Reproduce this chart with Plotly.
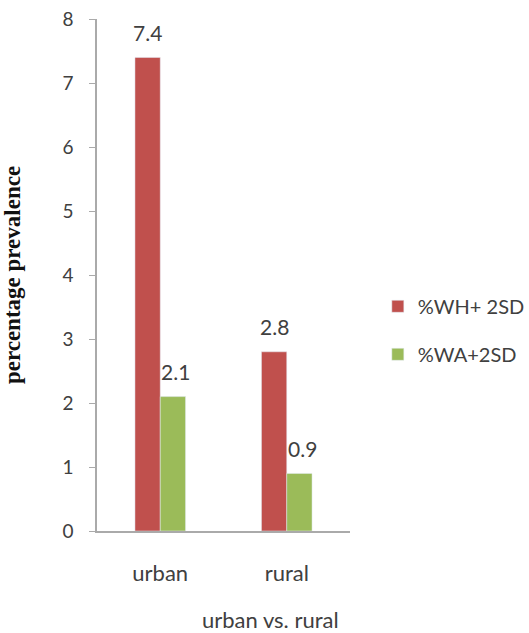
import plotly.graph_objects as go

categories = ["urban", "rural"]
wh_values = [7.4, 2.8]
wa_values = [2.1, 0.9]
series_names = ["%WH+ 2SD", "%WA+2SD"]
y_ticks = [0, 1, 2, 3, 4, 5, 6, 7, 8]

font_fam = "Lato, Open Sans, sans-serif"
txt_col = "#404040"
colors = ["#C0504D", "#9BBB59"]

fig = go.Figure()
for vals, name, col, grp in [(wh_values, series_names[0], colors[0], "a"),
                             (wa_values, series_names[1], colors[1], "b")]:
    fig.add_trace(go.Bar(x=categories, y=vals, name=name, marker_color=col,
                         legendgroup=grp))

# value labels placed above bars
for vals, shift in [(wh_values, -12.5), (wa_values, 12.5)]:
    for c, v in zip(categories, vals):
        fig.add_annotation(x=c, y=v, xref="x", yref="y", text=str(v),
                           showarrow=False, xshift=shift + (3 if shift > 0 else 0),
                           yshift=25, yanchor="middle",
                           font=dict(family=font_fam, size=21, color=txt_col))

fig.update_layout(
    width=529, height=633,
    margin=dict(l=97, r=179, t=19, b=102, autoexpand=False),
    paper_bgcolor="white", plot_bgcolor="white",
    barmode="group", bargap=0.6, bargroupgap=0,
    font=dict(family=font_fam, size=20, color=txt_col),
    showlegend=True,
    legend=dict(x=1.11, y=0.392, xanchor="left", yanchor="middle",
                font=dict(family=font_fam, size=20, color=txt_col),
                tracegroupgap=19, bgcolor="rgba(0,0,0,0)"),
    xaxis=dict(showline=True, linecolor="#aaaaaa", linewidth=1.5, automargin=False,
               ticks="", tickfont=dict(size=22, color=txt_col), ticklabelstandoff=22,
               showgrid=False),
    yaxis=dict(range=[0, 8], tickvals=y_ticks, showline=True, linecolor="#aaaaaa",
               linewidth=1.5, ticks="outside", ticklen=6, tickcolor="#aaaaaa",
               automargin=False,
               tickfont=dict(size=19, color=txt_col), showgrid=False, zeroline=False,
               ticklabelstandoff=12,
               title=dict(text="<b>percentage prevalence</b>",
                          font=dict(family="Liberation Serif, Times New Roman, serif", size=23, color="#111111"),
                          standoff=41)),
)
fig.add_annotation(text="urban vs. rural", xref="paper", yref="paper",
                   x=(270 - 97) / 253, y=-(619 - 531) / 512, showarrow=False,
                   xanchor="center", yanchor="middle",
                   font=dict(family=font_fam, size=22, color=txt_col))

fig.write_html("out.html", config={"displayModeBar": False},
               post_script="document.body.style.margin='0';document.body.style.overflow='hidden';")
